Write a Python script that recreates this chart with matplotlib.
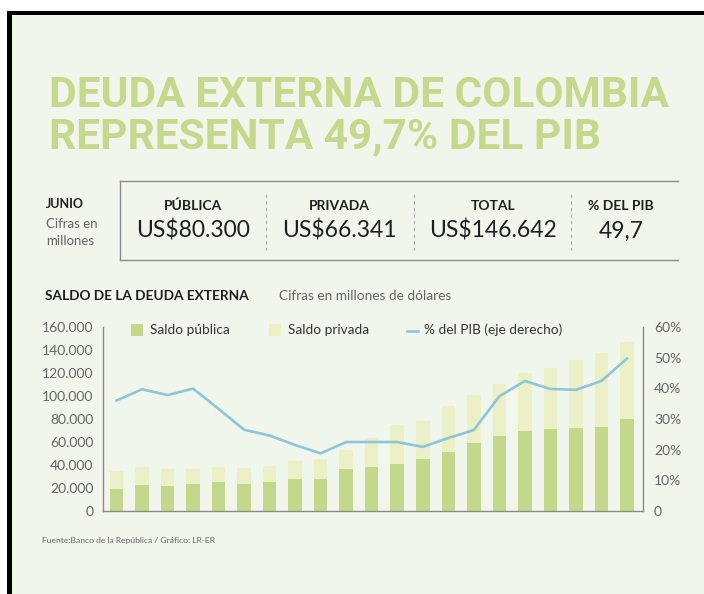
import numpy as np
import matplotlib
matplotlib.use("Agg")
import matplotlib.pyplot as plt
from matplotlib.patches import Rectangle
from matplotlib.lines import Line2D

# ----------------------------
# Data (millones de dolares / % del PIB)
# ----------------------------
saldo_publica = [19500, 22700, 21500, 23600, 25000, 23300, 25000, 27600, 28200, 36100, 38400,
                 41300, 45400, 51500, 58800, 65200, 69800, 71000, 71900, 72700, 80300]
saldo_privada = [15400, 15400, 14600, 13300, 13400, 14500, 14000, 15500, 17200, 17100, 25300,
                 33800, 32600, 39800, 42100, 45600, 50100, 53200, 59300, 64600, 66341]
pct_pib = [36.0, 39.7, 37.8, 39.9, 33.3, 26.5, 24.6, 21.5, 18.8, 22.5, 22.5,
           22.5, 20.9, 23.8, 26.4, 37.4, 42.4, 39.8, 39.5, 42.4, 49.7]

left_ticks = [0, 20000, 40000, 60000, 80000, 100000, 120000, 140000, 160000]
left_labels = ["0", "20.000", "40.000", "60.000", "80.000", "100.000", "120.000", "140.000", "160.000"]
right_ticks = [0, 10, 20, 30, 40, 50, 60]
right_labels = ["0", "10%", "20%", "30%", "40%", "50%", "60%"]

box_headers = ["PÚBLICA", "PRIVADA", "TOTAL", "% DEL PIB"]
box_values = ["US$80.300", "US$66.341", "US$146.642", "49,7"]

# ----------------------------
# Style
# ----------------------------
BG = "#f1f6ec"
GREEN_TITLE = "#c5d98d"
C_PUB = "#c3d88a"
C_PRIV = "#ecf0c6"
C_LINE = "#8cc7d9"
DARK = "#1f1f1f"
GREY = "#666666"
AXIS = "#8a8a8a"

plt.rcParams["font.family"] = ["Lato", "DejaVu Sans"]

W, H = 704, 594
fig = plt.figure(figsize=(W / 100, H / 100), dpi=100, facecolor="white")


def fx(x):
    return x / W


def fy(y):
    return 1 - y / H


# background + frame
fig.patches.append(Rectangle((fx(12), 0), 1 - fx(12), fy(15), transform=fig.transFigure,
                             facecolor=BG, edgecolor="none", zorder=-10))
fig.patches.append(Rectangle((fx(7), fy(15)), 1 - fx(7), 4 / H, transform=fig.transFigure,
                             facecolor="black", edgecolor="none", zorder=-9))
fig.patches.append(Rectangle((fx(7), 0), 5 / W, fy(11), transform=fig.transFigure,
                             facecolor="black", edgecolor="none", zorder=-9))

# title
fig.text(fx(49), fy(107), "DEUDA EXTERNA DE COLOMBIA", family=["Roboto", "DejaVu Sans"],
         fontweight="bold", fontsize=30.5, color=GREEN_TITLE, va="baseline", ha="left")
fig.text(fx(49), fy(148), "REPRESENTA 49,7% DEL PIB", family=["Roboto", "DejaVu Sans"],
         fontweight="bold", fontsize=30.5, color=GREEN_TITLE, va="baseline", ha="left")

# info box
fig.text(fx(46), fy(204), "JUNIO", fontweight="bold", fontsize=9, color=DARK, va="center")
fig.text(fx(46), fy(224), "Cifras en", fontsize=9.5, color=GREY, va="center")
fig.text(fx(46), fy(241), "millones", fontsize=9.5, color=GREY, va="center")

fig.add_artist(Line2D([fx(120), fx(678)], [fy(181), fy(181)], color=AXIS, lw=1.0))
fig.add_artist(Line2D([fx(120), fx(678)], [fy(260), fy(260)], color=AXIS, lw=1.0))
fig.add_artist(Line2D([fx(120), fx(120)], [fy(181), fy(260)], color=AXIS, lw=1.0))
for sx in [266, 414, 571]:
    fig.add_artist(Line2D([fx(sx), fx(sx)], [fy(194), fy(250)], color="#aaaaaa", lw=0.8,
                          linestyle=(0, (3, 3))))

for cx, head, val in zip([193, 339, 493, 621], box_headers, box_values):
    fig.text(fx(cx), fy(206), head, fontweight="bold", fontsize=10, color=DARK,
             ha="center", va="center")
    fig.text(fx(cx), fy(231), val, fontsize=16.5, color=DARK, ha="center", va="center")

# chart headers
fig.text(fx(45), fy(296), "SALDO DE LA DEUDA EXTERNA", fontweight="bold", fontsize=9.8,
         color=DARK, va="center")
fig.text(fx(279), fy(296), "Cifras en millones de dólares", fontsize=9.8, color=GREY, va="center")

# ----------------------------
# Chart
# ----------------------------
ax = fig.add_axes([fx(103), fy(511), fx(643) - fx(103), (511 - 327) / H])
ax.set_facecolor("none")
x = np.arange(len(saldo_publica))
width = 0.53
ax.bar(x, saldo_publica, width=width, color=C_PUB, zorder=2)
ax.bar(x, saldo_privada, width=width, bottom=saldo_publica, color=C_PRIV, zorder=2)
ax.set_xlim(-0.53, 20.63)
ax.set_ylim(0, 160000)
ax.set_yticks(left_ticks)
ax.set_yticklabels(left_labels)
ax.set_xticks([])
ax.tick_params(axis="y", length=0, pad=7, labelsize=10, labelcolor=GREY)
for s in ["top", "right"]:
    ax.spines[s].set_visible(False)
for s in ["left", "bottom"]:
    ax.spines[s].set_color(AXIS)
    ax.spines[s].set_linewidth(1.0)

ax2 = ax.twinx()
ax2.plot(x, pct_pib, color=C_LINE, lw=1.9, zorder=3)
ax2.set_ylim(0, 60)
ax2.set_yticks(right_ticks)
ax2.set_yticklabels(right_labels)
ax2.tick_params(axis="y", length=0, pad=8, labelsize=10, labelcolor=GREY)
for s in ["top", "left", "bottom"]:
    ax2.spines[s].set_visible(False)
ax2.spines["right"].set_color(AXIS)
ax2.spines["right"].set_linewidth(1.0)

# legend
ly = 330
fig.patches.append(Rectangle((fx(131), fy(ly + 6)), 12 / W, 12 / H, transform=fig.transFigure,
                             facecolor=C_PUB, edgecolor="none"))
fig.text(fx(150), fy(ly), "Saldo pública", fontsize=9.8, color="#333333", va="center")
fig.patches.append(Rectangle((fx(269), fy(ly + 6)), 12 / W, 12 / H, transform=fig.transFigure,
                             facecolor=C_PRIV, edgecolor="none"))
fig.text(fx(288), fy(ly), "Saldo privada", fontsize=9.8, color="#333333", va="center")
fig.add_artist(Line2D([fx(407), fx(418)], [fy(ly + 1), fy(ly + 1)], color=C_LINE, lw=1.9))
fig.text(fx(424), fy(ly), "% del PIB (eje derecho)", fontsize=9.8, color="#333333", va="center")

# source
fig.text(fx(42), fy(540), "Fuente:Banco de la República / Gráfico: LR-ER", fontsize=6.1,
         color=GREY, va="center")

fig.savefig("out.png", dpi=100, facecolor="white")
